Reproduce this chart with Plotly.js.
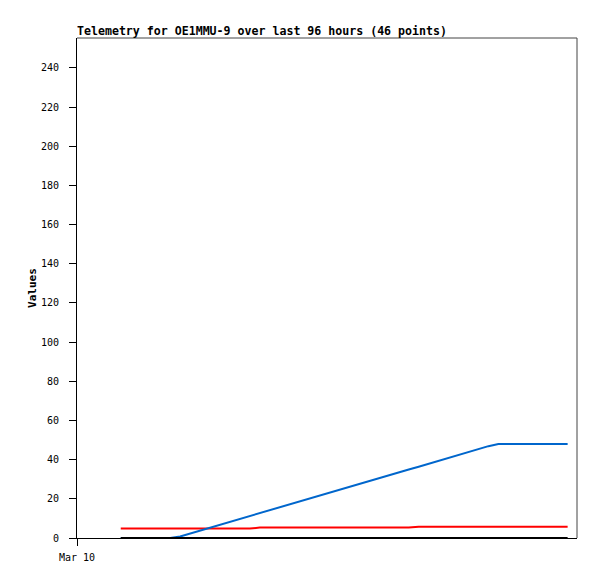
<!DOCTYPE html>
<html>
<head>
<meta charset="utf-8">
<script src="https://cdn.plot.ly/plotly-3.0.1.min.js"></script>
<style>html,body{margin:0;padding:0;background:#fff;}#chart{width:597px;height:579px;}</style>
</head>
<body>
<div id="chart"></div>
<script>
// hours since Mar 10 00:00
const hours = [8.4,10.3,12.2,14.1,16.0,17.9,19.8,21.7,23.7,25.6,27.5,29.4,31.3,33.2,35.1,37.0,38.9,40.8,42.7,44.6,46.5,48.4,50.4,52.3,54.2,56.1,58.0,59.9,61.8,63.7,65.6,67.5,69.4,71.3,73.2,75.1,77.1,79.0,80.9,82.8,84.7,86.6,88.5,90.4,92.3,94.2];
const redValues = [4.8,4.8,4.8,4.8,4.8,4.8,4.8,4.8,4.8,4.8,4.8,4.8,4.8,4.8,5.3,5.3,5.3,5.3,5.3,5.3,5.3,5.3,5.3,5.3,5.3,5.3,5.3,5.3,5.3,5.3,5.8,5.8,5.8,5.8,5.8,5.8,5.8,5.8,5.8,5.8,5.8,5.8,5.8,5.8,5.8,5.8];
const blueValues = [0,0,0,0,0,0,0.8,2.3,3.8,5.3,6.8,8.3,9.7,11.2,12.7,14.2,15.7,17.1,18.6,20.1,21.6,23.1,24.6,26.1,27.6,29.0,30.5,32.0,33.5,35.0,36.4,37.9,39.4,40.9,42.4,43.9,45.4,46.9,48.0,48.0,48.0,48.0,48.0,48.0,48.0,48.0];
const blackValues = [0,0,0,0,0,0,0,0,0,0,0,0,0,0,0,0,0,0,0,0,0,0,0,0,0,0,0,0,0,0,0,0,0,0,0,0,0,0,0,0,0,0,0,0,0,0];
const xTickVals = [0];
const xTickText = ['Mar 10'];
const yTickVals = [0,20,40,60,80,100,120,140,160,180,200,220,240];

const mono = 'DejaVu Sans Mono, monospace';
const traces = [
  {x: hours, y: redValues, mode: 'lines', line: {color: '#ff0000', width: 2}, hoverinfo: 'skip'},
  {x: hours, y: blueValues, mode: 'lines', line: {color: '#0066cc', width: 2}, hoverinfo: 'skip'},
  {x: hours, y: blackValues, mode: 'lines', line: {color: '#000000', width: 2}, hoverinfo: 'skip'}
];
const layout = {
  width: 597, height: 579,
  margin: {l: 77, r: 20, t: 38, b: 41},
  paper_bgcolor: '#fff', plot_bgcolor: '#fff',
  showlegend: false,
  font: {family: mono, size: 10, color: '#000'},
  title: {text: '<b>Telemetry for OE1MMU-9 over last 96 hours (46 points)</b>', font: {family: mono, size: 11.6, color: '#000'},
          x: 0, xref: 'paper', xanchor: 'left', y: 1, yref: 'paper', yanchor: 'bottom', pad: {b: 3}},
  xaxis: {range: [0, 96], tickmode: 'array', tickvals: xTickVals, ticktext: xTickText,
          showgrid: false, zeroline: false, showline: true, linecolor: '#000', linewidth: 1,
          ticks: 'outside', ticklen: 7, tickcolor: '#000', ticklabelstandoff: 3, tickfont: {family: mono, size: 10}},
  yaxis: {range: [0, 255.3], tickmode: 'array', tickvals: yTickVals,
          showgrid: false, zeroline: false, showline: true, linecolor: '#000', linewidth: 1,
          ticks: 'outside', ticklen: 7, tickcolor: '#000', ticklabelstandoff: 8, tickfont: {family: mono, size: 10},
          title: {text: '<b>Values</b>', font: {family: mono, size: 11}, standoff: 2}},
  shapes: [
    {type: 'line', xref: 'paper', yref: 'paper', x0: 0, x1: 1, y0: 1, y1: 1, line: {color: '#444', width: 1}},
    {type: 'line', xref: 'paper', yref: 'paper', x0: 1, x1: 1, y0: 0, y1: 1, line: {color: '#444', width: 1}}
  ]
};
Plotly.newPlot('chart', traces, layout, {staticPlot: true});
</script>
</body>
</html>
